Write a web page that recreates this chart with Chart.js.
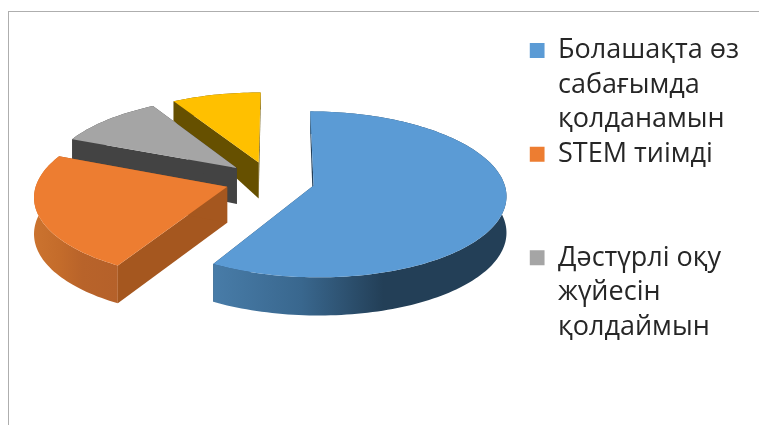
<!DOCTYPE html>
<html>
<head>
<meta charset="utf-8">
<title>Pie</title>
<script src="https://cdn.jsdelivr.net/npm/chart.js@4/dist/chart.umd.min.js"></script>
<style>
  html, body { margin: 0; padding: 0; background: #fff; overflow: hidden; }
  #frame { position: absolute; left: 8px; top: 11px; right: 0; bottom: 0;
           border-left: 1.5px solid #aeaeae; border-top: 1.5px solid #aeaeae; }
  #box { position: absolute; left: 0; top: 0; width: 759px; height: 425px; }
</style>
</head>
<body>
<div id="frame"></div>
<div id="box"><canvas id="mycanvas"></canvas></div>
<script>
var categories = [
	["Болашақта өз", "сабағымда", "қолданамын"],
	["STEM тиімді", "", ""],
	["Дәстүрлі оқу", "жүйесін", "қолдаймын"],
	""
];
var values = [58.2, 23, 10.3, 8.5];
var topColors = ["#5b9bd5", "#ed7d31", "#a5a5a5", "#ffc000"];
var wallColors = ["#24405a", "#a5571f", "#434343", "#665000"];
// left-to-right shading of the curved side of each slice
var rimStops = [
	["#487ca8", "#39678e", "#233f57", "#233f57"],
	["#cb732f", "#c46c2b", "#b8632a", "#b5612a"],
	["#434343", "#434343", "#434343", "#434343"],
	["#665000", "#665000", "#665000", "#665000"]
];

// tilted view of the pie plane
var cx = 270, cy = 180.5, rx = 190, ry = 81, persp = 0.106, explode = 0.236;

function project(u, v, drop) {
	var s = 1 / (1 - persp * v);
	return { x: cx + rx * u * s, y: cy + ry * v * s + drop };
}

// side walls are shorter towards the back of the pie
function depth(v) {
	if (v > -0.25) return 36 + Math.max(v, 0) * 2;
	return 36 - (-0.25 - v) * 19.3;
}

function slicePath(ctx, ox, oy, a0, a1, steps) {
	ctx.beginPath();
	var p = project(ox, oy, 0);
	ctx.moveTo(p.x, p.y);
	for (var i = 0; i <= steps; i++) {
		var a = a0 + (a1 - a0) * i / steps;
		p = project(ox + Math.cos(a), oy + Math.sin(a), 0);
		ctx.lineTo(p.x, p.y);
	}
	ctx.closePath();
}

function wall(ctx, ox, oy, a, color) {
	var ex = ox + Math.cos(a), ey = oy + Math.sin(a);
	var p1 = project(ox, oy, 0), p2 = project(ex, ey, 0);
	var p3 = project(ex, ey, depth(ey)), p4 = project(ox, oy, depth(oy));
	ctx.fillStyle = color;
	ctx.beginPath();
	ctx.moveTo(p1.x, p1.y);
	ctx.lineTo(p2.x, p2.y);
	ctx.lineTo(p3.x, p3.y);
	ctx.lineTo(p4.x, p4.y);
	ctx.closePath();
	ctx.fill();
}

function rim(ctx, ox, oy, a0, a1, steps, stops) {
	var i, a, p, pts = [];
	ctx.beginPath();
	for (i = 0; i <= steps; i++) {
		a = a0 + (a1 - a0) * i / steps;
		p = project(ox + Math.cos(a), oy + Math.sin(a), 0);
		pts.push(p);
		if (i === 0) ctx.moveTo(p.x, p.y); else ctx.lineTo(p.x, p.y);
	}
	var minX = pts[0].x, maxX = pts[0].x;
	for (i = steps; i >= 0; i--) {
		a = a0 + (a1 - a0) * i / steps;
		var ey = oy + Math.sin(a);
		p = project(ox + Math.cos(a), ey, depth(ey));
		ctx.lineTo(p.x, p.y);
		if (p.x < minX) minX = p.x;
		if (p.x > maxX) maxX = p.x;
	}
	ctx.closePath();
	var grad = ctx.createLinearGradient(minX, 0, maxX, 0);
	grad.addColorStop(0, stops[0]);
	grad.addColorStop(0.3, stops[1]);
	grad.addColorStop(0.58, stops[2]);
	grad.addColorStop(1, stops[3]);
	ctx.fillStyle = grad;
	ctx.fill();
}

// replaces the flat arcs with an extruded version, using the angles the pie controller worked out
var tiltedPie = {
	id: "tiltedPie",
	beforeDatasetsDraw: function(chart) {
		var ctx = chart.ctx;
		var arcs = chart.getDatasetMeta(0).data;
		ctx.save();
		for (var i = arcs.length - 1; i >= 0; i--) {
			var a0 = arcs[i].startAngle, a1 = arcs[i].endAngle;
			var mid = (a0 + a1) / 2;
			var ox = Math.cos(mid) * explode, oy = Math.sin(mid) * explode;
			var steps = Math.max(8, Math.round((a1 - a0) * 40));
			wall(ctx, ox, oy, a0, wallColors[i]);
			wall(ctx, ox, oy, a1, wallColors[i]);
			rim(ctx, ox, oy, a0, a1, steps, rimStops[i]);
			slicePath(ctx, ox, oy, a0, a1, steps);
			ctx.fillStyle = topColors[i];
			ctx.fill();
		}
		ctx.restore();
		return false;
	}
};

var chartdata = {
	labels: categories,
	datasets: [
		{
			data: values,
			backgroundColor: topColors,
			borderWidth: 0
		}
	]
};

var LineGraph = new Chart(document.getElementById("mycanvas"), {
	type: "pie",
	data: chartdata,
	plugins: [tiltedPie],
	options: {
		responsive: true,
		maintainAspectRatio: false,
		animation: false,
		rotation: 0.3,
		layout: { padding: { top: 37, right: 10 } },
		plugins: {
			tooltip: { enabled: false },
			legend: {
				position: "right",
				align: "start",
				labels: {
					boxWidth: 15,
					boxHeight: 15,
					padding: 0,
					color: "#262626",
					font: { family: "'Open Sans', 'Noto Sans', sans-serif", size: 27, lineHeight: 1.28 },
					filter: function(item) { return item.index < 3; }
				}
			}
		}
	}
});
</script>
</body>
</html>
